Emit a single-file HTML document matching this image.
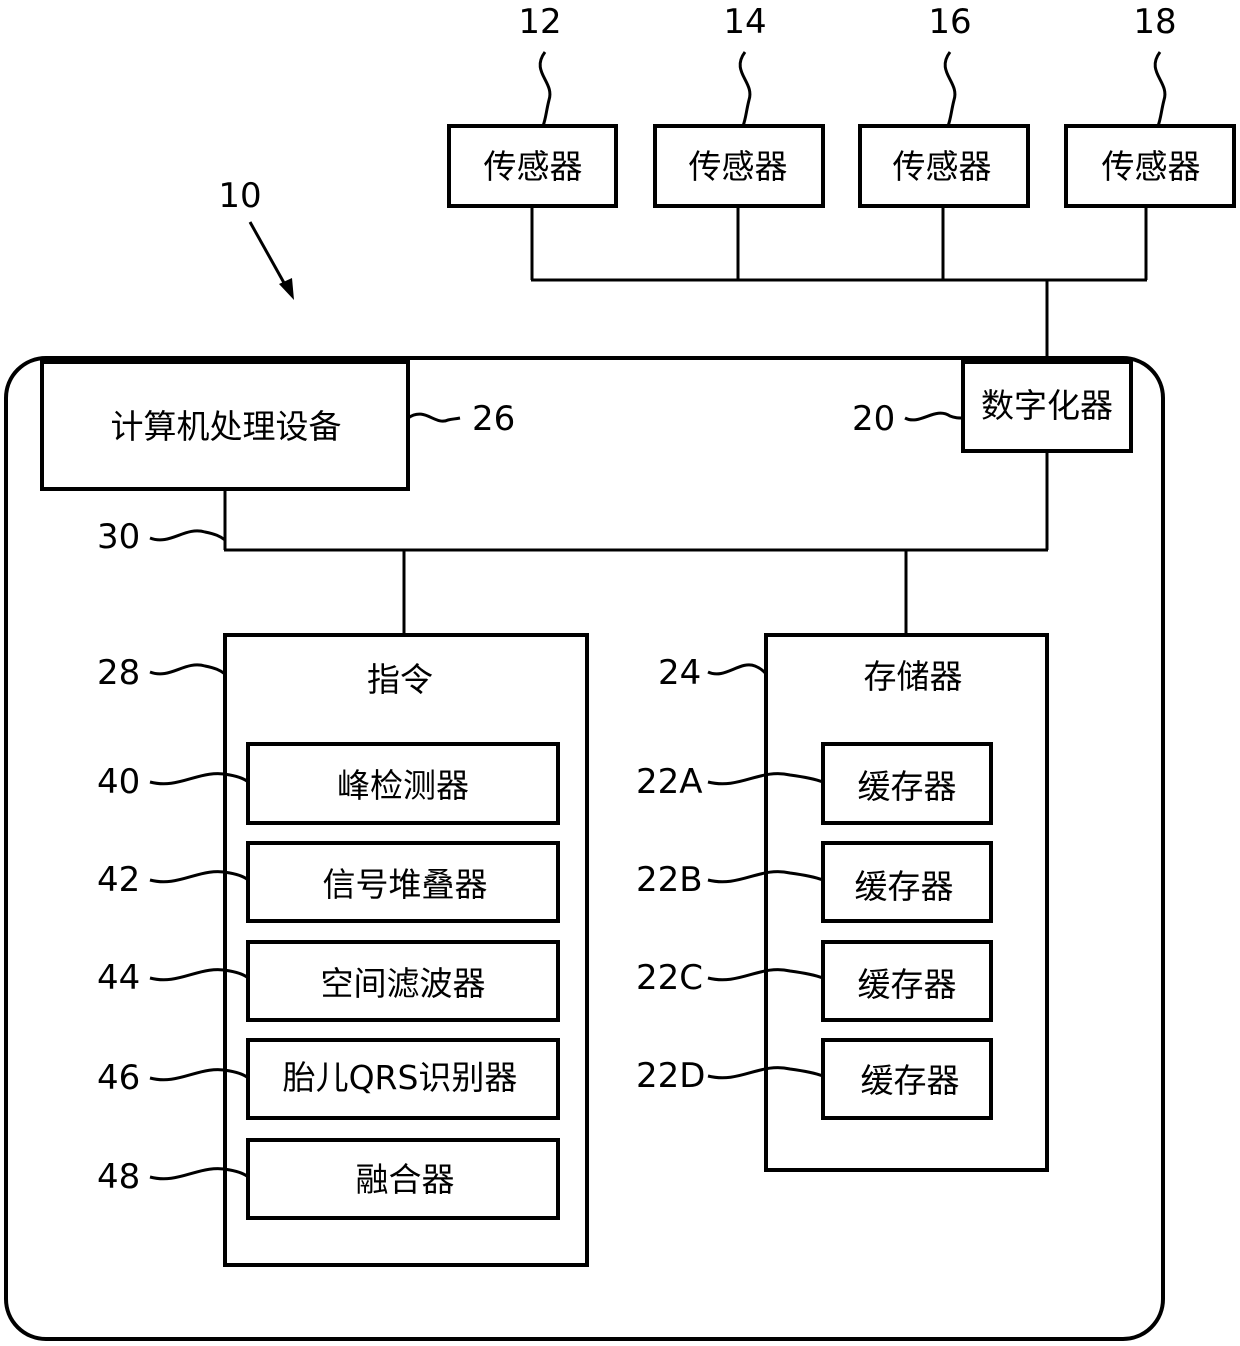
<!DOCTYPE html>
<html><head><meta charset="utf-8"><style>
html,body{margin:0;padding:0;background:#fff}
svg{display:block}
text{font-family:"DejaVu Sans","Liberation Sans",sans-serif;fill:#000}
.c{font-family:"Liberation Sans","Noto Sans CJK SC",sans-serif;font-size:33px}
.n{font-size:34px}
</style></head><body>
<svg width="1240" height="1346" viewBox="0 0 1240 1346" xmlns="http://www.w3.org/2000/svg">
<g fill="none" stroke="#000" stroke-width="4">
<rect x="6" y="358" width="1157" height="981" rx="40"/>
<rect x="449" y="126" width="167" height="80"/>
<rect x="655" y="126" width="168" height="80"/>
<rect x="860" y="126" width="168" height="80"/>
<rect x="1066" y="126" width="168" height="80"/>
<rect x="42" y="362" width="366" height="127"/>
<rect x="963" y="362" width="168" height="89"/>
<rect x="225" y="635" width="362" height="630"/>
<rect x="766" y="635" width="281" height="535"/>
<rect x="248" y="744" width="310" height="79"/>
<rect x="248" y="843" width="310" height="78"/>
<rect x="248" y="942" width="310" height="78"/>
<rect x="248" y="1040" width="310" height="78"/>
<rect x="248" y="1140" width="310" height="78"/>
<rect x="823" y="744" width="168" height="79"/>
<rect x="823" y="843" width="168" height="78"/>
<rect x="823" y="942" width="168" height="78"/>
<rect x="823" y="1040" width="168" height="78"/>
</g>
<g fill="none" stroke="#000" stroke-width="3">
<path d="M532 206V280M738 206V280M943 206V280M1146 206V280M531 280H1147M1047 280V362"/>
<path d="M1047 451V550M225 489V550M224 550H1048M404 550V635M906 550V635"/>
<path d="M545 52C530 72 555 82 549 100C546 112 546 118 543 126"/>
<path d="M745 52C730 72 755 82 749 100C746 112 746 118 743 126"/>
<path d="M950 52C935 72 960 82 954 100C951 112 951 118 948 126"/>
<path d="M1160 52C1145 72 1170 82 1164 100C1161 112 1161 118 1158 126"/>
<path d="M408 418C425 406 435 426 448 420C452 419 455 419 460 418"/>
<path d="M905 418C920 426 935 406 950 416C955 418 958 418 963 418"/>
<path d="M150 538C170 546 185 526 205 532C215 534 220 536 225 540"/>
<path d="M150 672C170 680 185 660 205 666C215 668 220 670 225 674"/>
<path d="M150 782C180 790 200 768 230 775C240 777 245 779 248 782"/>
<path d="M150 880C180 888 200 866 230 873C240 875 245 877 248 880"/>
<path d="M150 978C180 986 200 964 230 971C240 973 245 975 248 978"/>
<path d="M150 1078C180 1086 200 1064 230 1071C240 1073 245 1075 248 1078"/>
<path d="M150 1177C180 1185 200 1163 230 1170C240 1172 245 1174 248 1177"/>
<path d="M708 672C725 680 740 660 755 666C760 668 763 670 766 674"/>
<path d="M708 782C740 790 760 768 790 775C805 777 815 779 823 782"/>
<path d="M708 880C740 888 760 866 790 873C805 875 815 877 823 880"/>
<path d="M708 978C740 986 760 964 790 971C805 973 815 975 823 978"/>
<path d="M708 1076C740 1084 760 1062 790 1069C805 1071 815 1073 823 1076"/>
<path d="M250 222L288 290"/>
</g>
<path d="M294 300L279 284L292 278Z" fill="#000"/>
<g class="n">
<text x="540" y="33" text-anchor="middle">12</text>
<text x="745" y="33" text-anchor="middle">14</text>
<text x="950" y="33" text-anchor="middle">16</text>
<text x="1155" y="33" text-anchor="middle">18</text>
<text x="240" y="207" text-anchor="middle">10</text>
<text x="472" y="430">26</text>
<text x="852" y="430">20</text>
<text x="97" y="548">30</text>
<text x="97" y="684">28</text>
<text x="97" y="793">40</text>
<text x="97" y="891">42</text>
<text x="97" y="989">44</text>
<text x="97" y="1089">46</text>
<text x="97" y="1188">48</text>
<text x="658" y="684">24</text>
<text x="636" y="793">22A</text>
<text x="636" y="891">22B</text>
<text x="636" y="989">22C</text>
<text x="636" y="1087">22D</text>
</g>
<g class="c" text-anchor="middle">
<text x="533" y="178">传感器</text>
<text x="738" y="178">传感器</text>
<text x="942" y="178">传感器</text>
<text x="1151" y="178">传感器</text>
<text x="226" y="438">计算机处理设备</text>
<text x="1047" y="417">数字化器</text>
<text x="400" y="691">指令</text>
<text x="913" y="688">存储器</text>
<text x="403" y="797">峰检测器</text>
<text x="405" y="896">信号堆叠器</text>
<text x="403" y="995">空间滤波器</text>
<text x="400" y="1089">胎儿QRS识别器</text>
<text x="405" y="1191">融合器</text>
<text x="907" y="798">缓存器</text>
<text x="904" y="898">缓存器</text>
<text x="907" y="996">缓存器</text>
<text x="910" y="1092">缓存器</text>
</g>
</svg>
</body></html>
